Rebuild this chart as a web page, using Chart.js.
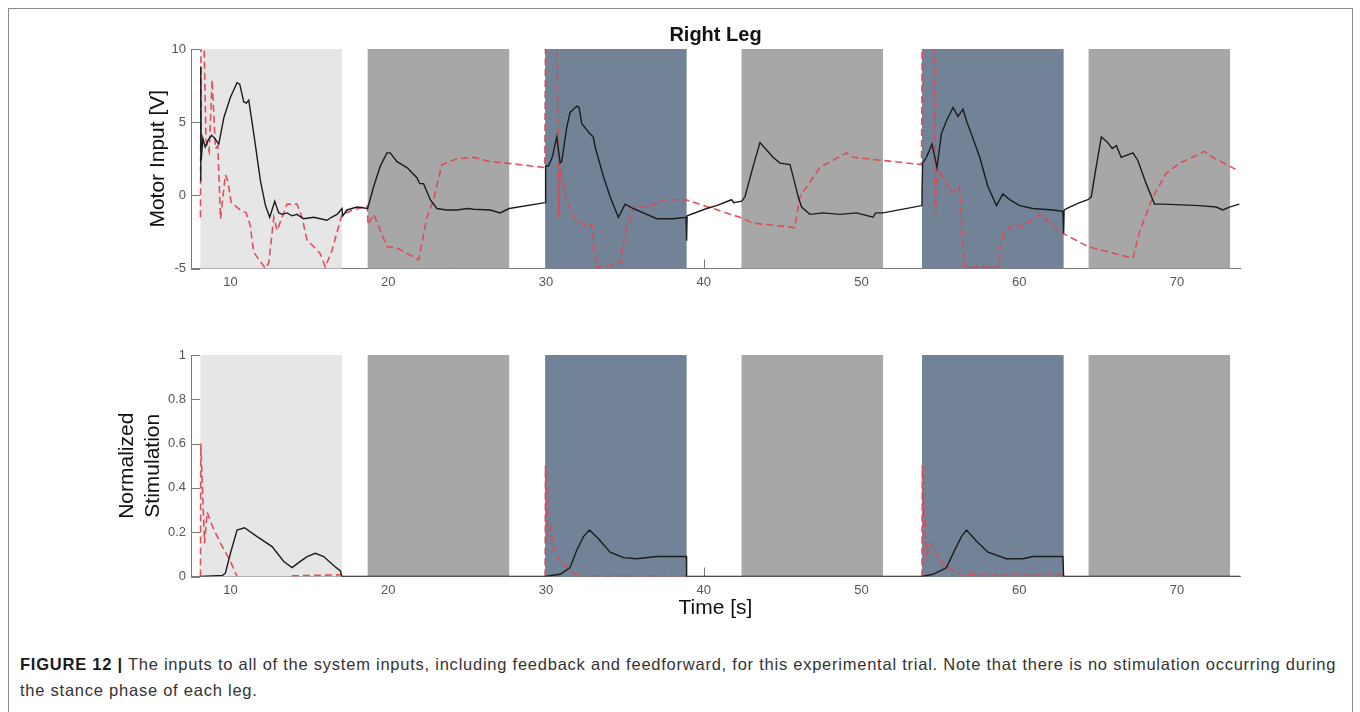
<!DOCTYPE html>
<html>
<head>
<meta charset="utf-8">
<script src="https://cdn.jsdelivr.net/npm/chart.js@4.4.1/dist/chart.umd.min.js"></script>
<style>
  body { margin: 0; background: #fff; width: 1360px; height: 712px; overflow: hidden; position: relative;
         font-family: "Liberation Sans", Arial, sans-serif; }
  .frame { position: absolute; left: 8px; top: 8px; width: 1343px; height: 720px; border: 1px solid #8a8a8a; }
  canvas { position: absolute; left: 0; }
  #top { top: 0; }
  #bottom { top: 320px; }
  .caption { position: absolute; left: 20px; top: 651px; font-size: 16.5px; letter-spacing: 0.76px; line-height: 26px;
             color: #333; white-space: nowrap; }
  .caption b { color: #1a1a1a; }
</style>
</head>
<body>
<div class="frame"></div>
<canvas id="top" width="1360" height="300"></canvas>
<canvas id="bottom" width="1360" height="320"></canvas>
<div class="caption"><b>FIGURE 12 |</b> The inputs to all of the system inputs, including feedback and feedforward, for this experimental trial. Note that there is no stimulation occurring during<br>the stance phase of each leg.</div>
<script>
// axes
const xTicks = [10, 20, 30, 40, 50, 60, 70];
const motorTicks = [-5, 0, 5, 10];
const stimTicks = [0, 0.2, 0.4, 0.6, 0.8, 1];

// gait phases (s)
const phaseStart = [8.1, 18.7, 29.95, 42.4, 53.84, 64.4];
const phaseEnd   = [17.07, 27.67, 38.92, 51.37, 62.82, 73.37];
const phaseKind  = ['first', 'stance', 'swing', 'stance', 'swing', 'stance'];

// motor input - feedback (black)
const fbTime = [8.1, 8.12, 8.15, 8.25, 8.4, 8.6, 8.8, 9.0, 9.26, 9.58,
  10.0, 10.42, 10.59, 10.84, 11.0, 11.16, 11.48, 11.9, 12.22, 12.49,
  12.81, 13.06, 13.3, 13.59, 13.9, 14.22, 14.64, 15.28, 15.7, 16.12,
  16.4, 16.76, 17.07, 17.12, 17.39, 18.02, 18.7, 19.08, 19.5, 19.92,
  20.13, 20.56, 21.19, 21.82, 22.0, 22.24, 22.67, 23.09, 23.7, 24.36,
  25.0, 25.41, 26.47, 27.1, 27.67, 29.95, 29.96, 30.0, 30.16, 30.4,
  30.69, 30.9, 31.0, 31.32, 31.53, 31.96, 32.1, 32.27, 32.8, 33.0,
  33.12, 33.64, 34.07, 34.59, 35.02, 35.54, 36.39, 37.02, 38.07, 38.88,
  38.92, 38.95, 40.19, 40.82, 41.77, 41.9, 42.41, 42.62, 43.14, 43.57,
  43.99, 44.4, 44.83, 45.47, 45.67, 45.99, 46.21, 46.73, 47.57, 48.63,
  49.69, 50.74, 50.9, 51.37, 53.81, 53.84, 53.88, 54.12, 54.48, 54.79,
  55.07, 55.39, 55.81, 56.12, 56.44, 56.66, 56.97, 57.5, 58.02, 58.56,
  58.97, 59.4, 60.03, 60.87, 61.5, 62.14, 62.77, 62.82, 62.85, 63.2,
  63.83, 64.36, 64.57, 64.89, 65.21, 65.62, 65.9, 66.16, 66.47, 67.21,
  67.52, 68.05, 68.58, 69.11, 70.37, 71.43, 72.49, 72.91, 73.33, 73.96];
const fbMotor = [1.0, 8.8, 2.4, 3.9, 3.3, 3.8, 4.1, 3.9, 3.5, 5.3,
  6.7, 7.7, 7.6, 6.4, 6.3, 6.5, 4.2, 1.0, -0.7, -1.5,
  -0.4, -1.2, -1.3, -1.2, -1.4, -1.3, -1.6, -1.5, -1.6, -1.7,
  -1.5, -1.3, -0.9, -1.4, -1.0, -0.8, -0.9, 0.6, 2.0, 2.9,
  2.9, 2.3, 1.9, 1.2, 0.8, 0.8, -0.3, -0.9, -1.0, -1.0,
  -0.9, -0.95, -1.0, -1.2, -0.9, -0.5, 0.2, 2.0, 2.0, 2.6,
  4.0, 2.2, 2.3, 4.65, 5.67, 6.1, 6.0, 4.9, 4.2, 4.0,
  3.3, 1.3, -0.1, -1.5, -0.6, -0.9, -1.3, -1.6, -1.6, -1.5,
  -3.1, -1.4, -0.9, -0.7, -0.3, -0.5, -0.4, -0.1, 2.0, 3.6,
  3.1, 2.6, 2.2, 2.1, 1.3, -0.1, -0.8, -1.3, -1.2, -1.3,
  -1.2, -1.5, -1.2, -1.2, -0.7, 0.2, 2.2, 2.6, 3.5, 1.9,
  4.2, 5.1, 6.0, 5.4, 5.9, 5.1, 4.2, 2.6, 0.6, -0.7,
  0.1, -0.3, -0.7, -0.9, -0.95, -1.0, -1.1, -2.6, -1.0, -0.8,
  -0.5, -0.3, -0.1, 2.0, 4.0, 3.6, 3.2, 3.4, 2.6, 2.9,
  2.4, 0.8, -0.6, -0.6, -0.65, -0.7, -0.8, -1.0, -0.8, -0.6];

// motor input - feedforward (red dashed), values above 10 are clipped by the axes
const ffTime = [8.1, 8.14, 8.3, 8.45, 8.65, 8.84, 9.05, 9.2, 9.37, 9.68,
  9.83, 10.05, 10.63, 11.0, 11.24, 11.48, 12.22, 12.43, 12.75, 12.96,
  13.59, 14.22, 14.54, 14.86, 15.28, 15.7, 16.01, 16.43, 17.07, 17.8,
  18.68, 18.72, 19.08, 19.92, 20.56, 21.93, 22.46, 22.88, 23.4, 24.36,
  25.41, 26.47, 27.52, 29.93, 29.98, 30.7, 30.8, 30.9, 31.32, 31.75,
  32.4, 32.9, 33.22, 33.75, 34.7, 35.0, 35.6, 36.39, 37.6, 38.85,
  42.3, 43.14, 45.77, 46.1, 47.36, 49.05, 49.47, 53.81, 53.86, 54.6,
  54.7, 54.8, 55.39, 55.7, 56.2, 56.55, 58.65, 58.97, 59.6, 60.24,
  61.3, 62.77, 64.36, 67.21, 67.63, 68.48, 69.32, 70.16, 70.79, 71.74,
  72.27, 73.85];
const ffMotor = [-1.5, 12, 12, 3.8, 3.0, 7.9, 3.2, 3.4, -1.6, 1.4,
  1.0, -0.5, -1.0, -1.2, -2.0, -3.9, -5.0, -4.6, -1.5, -2.4,
  -0.6, -0.6, -1.5, -3.1, -3.5, -4.0, -4.9, -3.8, -1.3, -1.0,
  -0.7, -2.0, -1.3, -3.5, -3.6, -4.4, -1.5, -0.3, 2.1, 2.5,
  2.6, 2.3, 2.2, 1.9, 12, 12, -1.5, 1.9, -0.4, -1.5,
  -2.0, -2.0, -4.9, -4.9, -4.6, -2.7, -0.8, -0.8, -0.3, -0.3,
  -1.5, -1.9, -2.2, -0.1, 1.9, 2.9, 2.6, 2.1, 12, 12,
  -1.3, 1.9, 0.8, 0.2, 0.6, -4.9, -4.9, -2.7, -2.0, -2.1,
  -1.3, -2.6, -3.5, -4.3, -2.5, -0.1, 1.5, 2.2, 2.5, 3.0,
  2.6, 1.7];

// normalized stimulation - feedback (black)
const fbStimTime = [8.1, 9.5, 9.68, 10.0, 10.42, 10.89, 11.69, 12.64, 13.38, 13.91,
  14.43, 14.86, 15.38, 15.91, 16.54, 16.97, 17.07, 29.95, 30.9, 31.53,
  31.96, 32.38, 32.76, 33.33, 34.07, 34.91, 35.76, 37.02, 38.9, 38.92,
  53.84, 54.54, 55.39, 55.92, 56.34, 56.66, 57.29, 58.02, 59.19, 60.24,
  60.87, 62.77, 62.82, 73.96];
const fbStim = [0, 0.005, 0.015, 0.105, 0.21, 0.22, 0.18, 0.135, 0.068, 0.04,
  0.068, 0.09, 0.105, 0.09, 0.05, 0.025, 0, 0, 0.01, 0.04,
  0.12, 0.18, 0.21, 0.17, 0.11, 0.085, 0.08, 0.09, 0.09, 0,
  0, 0.01, 0.04, 0.12, 0.18, 0.21, 0.16, 0.11, 0.08, 0.08,
  0.09, 0.09, 0, 0];

// normalized stimulation - feedforward (red dashed), null = no trace
const ffStimTime = [8.1, 8.12, 8.36, 8.52, 8.9, 9.37, 9.99, 10.42, 10.5, 13.9,
  17.07, 17.1, 29.95, 29.97, 30.1, 30.3, 30.48, 30.9, 31.75, 32.38,
  38.92, 39.0, 53.84, 53.86, 54.01, 54.15, 54.33, 54.96, 56.0, 57.5,
  62.82];
const ffStim = [0, 0.6, 0.15, 0.29, 0.22, 0.15, 0.07, 0, null, 0.003,
  0.008, null, 0, 0.5, 0.18, 0.22, 0.13, 0.07, 0.015, 0.003,
  0.003, null, 0, 0.5, 0.21, 0.1, 0.15, 0.07, 0.015, 0.005,
  0.005];

const FONT = '"Liberation Sans", Arial, sans-serif';
Chart.defaults.font.family = FONT;

const phaseColors = { first: '#e6e6e6', stance: '#a7a7a7', swing: '#728397' };
const axisColor = '#7a7a7a';

function pts(t, v) {
  return t.map((x, i) => ({ x: x, y: v[i] }));
}

// phase shading + inward ticks, drawn under the lines
const phasesPlugin = {
  id: 'phases',
  beforeDatasetsDraw(chart) {
    const { ctx, chartArea: a, scales: { x, y } } = chart;
    ctx.save();
    ctx.strokeStyle = axisColor;
    ctx.lineWidth = 1;
    ctx.beginPath();
    y.ticks.forEach(t => {
      const py = Math.round(y.getPixelForValue(t.value)) + 0.5;
      ctx.moveTo(a.left, py);
      ctx.lineTo(a.left + 9, py);
    });
    x.ticks.forEach(t => {
      const px = Math.round(x.getPixelForValue(t.value)) + 0.5;
      ctx.moveTo(px, a.bottom);
      ctx.lineTo(px, a.bottom - 9);
    });
    ctx.stroke();
    for (let i = 0; i < phaseStart.length; i++) {
      const x0 = x.getPixelForValue(phaseStart[i]);
      const x1 = x.getPixelForValue(phaseEnd[i]);
      ctx.fillStyle = phaseColors[phaseKind[i]];
      ctx.fillRect(x0, a.top, x1 - x0, a.bottom - a.top);
    }
    ctx.restore();
  }
};

function lineSets(blackData, redData) {
  return [
    { label: 'Feedback', data: blackData, borderColor: '#1c1c1c', borderWidth: 1.4,
      pointRadius: 0, tension: 0, spanGaps: false },
    { label: 'Feedforward', data: redData, borderColor: 'rgba(221,72,82,0.95)', borderWidth: 1.6,
      borderDash: [7, 4], pointRadius: 0, tension: 0, spanGaps: false }
  ];
}

function xScale(height, title) {
  return {
    type: 'linear', min: 7.5, max: 74,
    afterBuildTicks: s => { s.ticks = xTicks.map(v => ({ value: v })); },
    afterFit: s => { s.height = height; },
    grid: { display: false, drawTicks: false },
    border: { display: true, color: axisColor, width: 1 },
    ticks: { color: '#555', font: { size: 13 }, padding: 6, maxRotation: 0, autoSkip: false },
    title: title
  };
}

function yScale(min, max, tickValues, title) {
  return {
    min: min, max: max,
    afterBuildTicks: s => { s.ticks = tickValues.map(v => ({ value: v })); },
    afterFit: s => { s.width = 191; },
    grid: { display: false, drawTicks: false },
    border: { display: true, color: axisColor, width: 1 },
    ticks: { color: '#555', font: { size: 13 }, padding: 5, callback: v => String(v) },
    title: title
  };
}

new Chart(document.getElementById('top'), {
  type: 'line',
  data: { datasets: lineSets(pts(fbTime, fbMotor), pts(ffTime, ffMotor)) },
  options: {
    responsive: false, animation: false, events: [],
    layout: { padding: { left: 0, right: 120, top: 15, bottom: 0 } },
    plugins: {
      legend: { display: false },
      tooltip: { enabled: false },
      title: { display: true, text: 'Right Leg', fullSize: false, color: '#111',
               font: { size: 20, weight: 'bold', lineHeight: 1.2 }, padding: { top: 8, bottom: 2 } }
    },
    scales: {
      x: xScale(31.5, { display: false }),
      y: yScale(-5, 10, motorTicks, { display: true, text: 'Motor Input [V]', color: '#111',
                font: { size: 21, lineHeight: 1.2 }, padding: { top: 145.4, bottom: 0 } })
    }
  },
  plugins: [phasesPlugin]
});

new Chart(document.getElementById('bottom'), {
  type: 'line',
  data: { datasets: lineSets(pts(fbStimTime, fbStim), pts(ffStimTime, ffStim)) },
  options: {
    responsive: false, animation: false, events: [],
    layout: { padding: { left: 0, right: 120, top: 35, bottom: 0 } },
    plugins: { legend: { display: false }, tooltip: { enabled: false } },
    scales: {
      x: xScale(63.5, { display: true, text: 'Time [s]', color: '#111', font: { size: 21, lineHeight: 1.2 },
                padding: { top: 0, bottom: 19.4 } }),
      y: yScale(0, 1, stimTicks, { display: true, text: ['Normalized', 'Stimulation'], color: '#111',
                font: { size: 21, lineHeight: 1.2 }, padding: { top: 115, bottom: 0 } })
    }
  },
  plugins: [phasesPlugin]
});
</script>
</body>
</html>
